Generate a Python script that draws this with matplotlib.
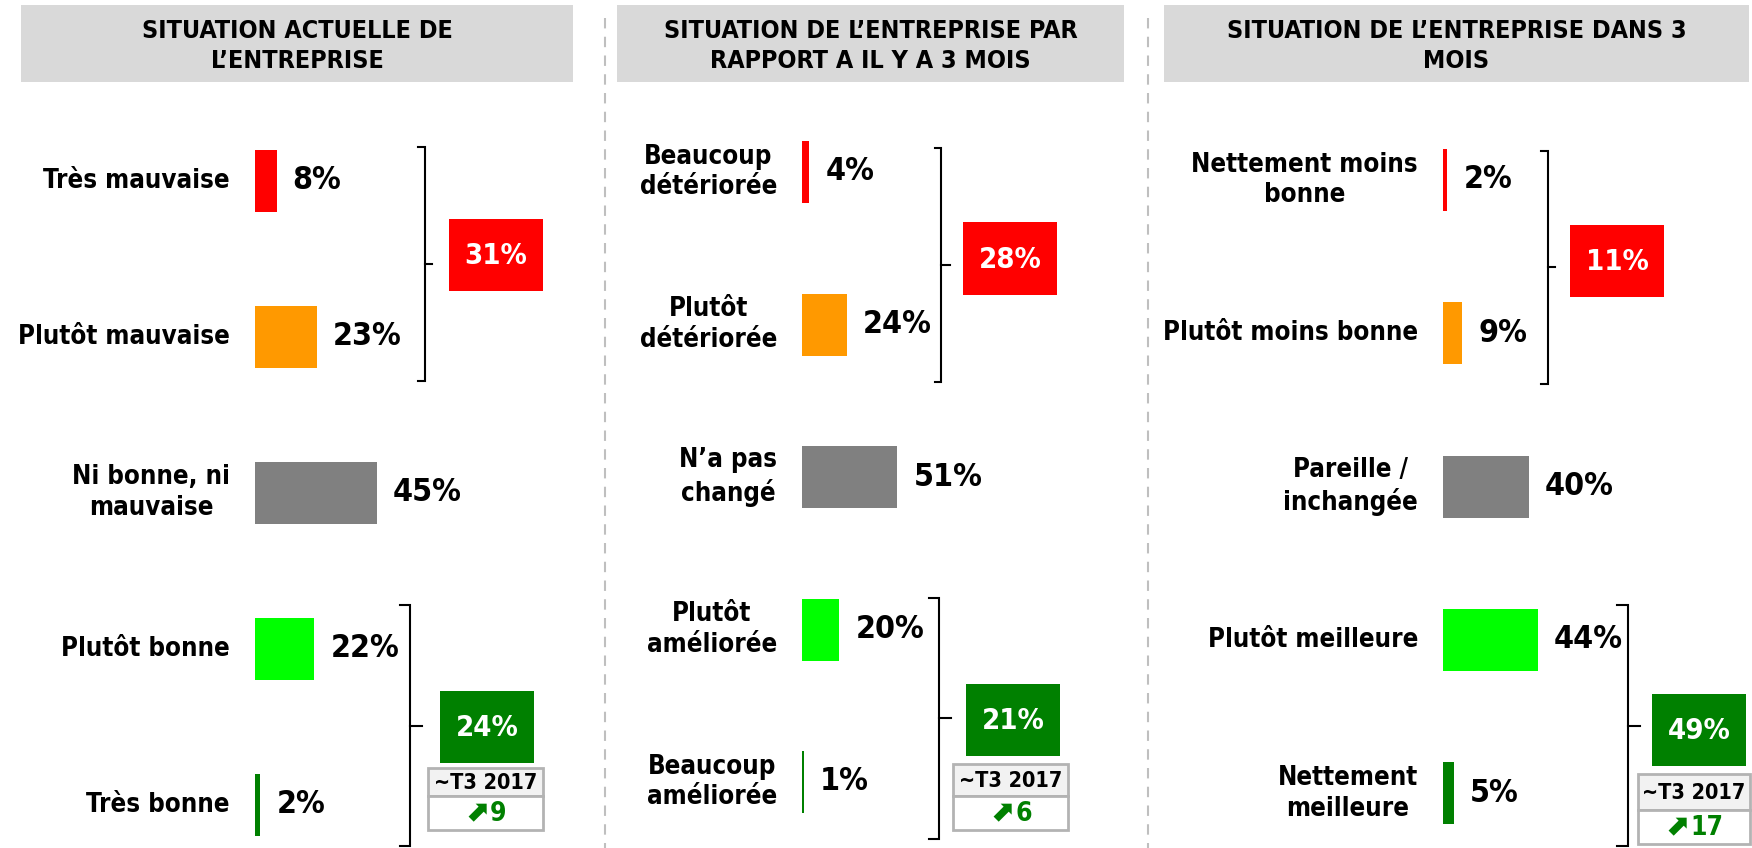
import matplotlib
matplotlib.use("Agg")
import matplotlib.pyplot as plt
from matplotlib.patches import Rectangle
from matplotlib.offsetbox import TextArea, HPacker, AnnotationBbox

W, H = 1752, 848

# data
titles = ["SITUATION ACTUELLE DE\nL\u2019ENTREPRISE",
          "SITUATION DE L\u2019ENTREPRISE PAR\nRAPPORT A IL Y A 3 MOIS",
          "SITUATION DE L\u2019ENTREPRISE DANS 3\nMOIS"]
labels1 = ["Très mauvaise", "Plutôt mauvaise", "Ni bonne, ni\nmauvaise", "Plutôt bonne", "Très bonne"]
values1 = [8, 23, 45, 22, 2]
labels2 = ["Beaucoup\ndétériorée", "Plutôt\ndétériorée", "N\u2019a pas\nchangé", "Plutôt\naméliorée", "Beaucoup\naméliorée"]
values2 = [4, 24, 51, 20, 1]
labels3 = ["Nettement moins\nbonne", "Plutôt moins bonne", "Pareille /\ninchangée", "Plutôt meilleure", "Nettement\nmeilleure"]
values3 = [2, 9, 40, 44, 5]
neg_totals = [31, 28, 11]
pos_totals = [24, 21, 49]
ref_label = "~T3 2017"
evolution = [9, 6, 17]

bar_colors = ["#FF0000", "#FF9900", "#808080", "#00FF00", "#008000"]
dark_green = "#008000"

# condensed bold is closest to the Tahoma look of the original
F = dict(family="DejaVu Sans", fontstretch="condensed", fontweight="bold")

# layout in pixels (one dict per panel)
panels = [
    dict(labels=labels1, values=values1, x0=255, ppp=2.70, row0=180.5, step=156,
         head=(21, 573), top_br=(425, 418, 432, 147, 381, 264),
         bot_br=(410, 400, 422, 605, 846, 726),
         red=(449, 219, 94, 72), green=(440, 691, 94, 72), table=(428, 768, 115, 28, 34)),
    dict(labels=labels2, values=values2, x0=802, ppp=1.87, row0=172, step=152.5,
         head=(617, 1124), top_br=(941, 935, 950, 148, 382, 265),
         bot_br=(939, 929, 951, 598, 839, 718),
         red=(963, 222, 94, 73), green=(966, 684, 94, 72), table=(953, 764, 115, 32, 34)),
    dict(labels=labels3, values=values3, x0=1443, ppp=2.15, row0=180, step=153.3,
         head=(1164, 1749), top_br=(1548, 1541, 1555, 151, 384, 267),
         bot_br=(1628, 1617, 1640, 605, 846, 726),
         red=(1570, 225, 94, 72), green=(1652, 694, 94, 72), table=(1638, 774, 112, 36, 34)),
]

fig = plt.figure(figsize=(W / 100, H / 100), dpi=100)
fig.patch.set_facecolor("white")

# overlay axes in pixel coordinates for decorations
bg = fig.add_axes([0, 0, 1, 1])
bg.set_xlim(0, W)
bg.set_ylim(H, 0)
bg.axis("off")

# dashed separators
for xs in [605, 1148]:
    bg.plot([xs, xs], [18, H], color="#BFBFBF", lw=1.5, ls=(0, (5, 4)))

for k, p in enumerate(panels):
    # header
    hx0, hx1 = p["head"]
    bg.add_patch(Rectangle((hx0, 5), hx1 - hx0, 77, facecolor="#D9D9D9", edgecolor="none"))
    bg.text((hx0 + hx1) / 2, 46, titles[k], ha="center", va="center", fontsize=18,
            linespacing=1.3, **F)

    # bar axes
    x0, ppp = p["x0"], p["ppp"]
    ax = fig.add_axes([x0 / W, 0, 100 * ppp / W, 1])
    ax.set_xlim(0, 100)
    ax.set_ylim((H - p["row0"]) / p["step"], -p["row0"] / p["step"])
    ax.axis("off")
    ypos = list(range(len(p["values"])))
    ax.barh(ypos, p["values"], height=62 / p["step"], color=bar_colors, left=0)
    for i, (lab, v) in enumerate(zip(p["labels"], p["values"])):
        ax.annotate(lab, (0, i), xytext=(-25, 0), textcoords="offset pixels",
                    ha="right", va="center", multialignment="center",
                    fontsize=18.5, linespacing=1.25, **F)
        ax.annotate(f"{v}%", (v, i), xytext=(16, 0), textcoords="offset pixels",
                    ha="left", va="center", fontsize=23, **F)

    # brackets
    for (bx, hx, tx, y0, y1, ym) in [p["top_br"], p["bot_br"]]:
        bg.plot([hx, bx, bx, hx], [y0, y0, y1, y1], color="black", lw=1.5,
                solid_joinstyle="miter")
        bg.plot([bx, tx], [ym, ym], color="black", lw=1.5)

    # total boxes
    rx, ry, rw, rh = p["red"]
    bg.add_patch(Rectangle((rx, ry), rw, rh, facecolor="#FF0000", edgecolor="none"))
    bg.text(rx + rw / 2, ry + rh / 2 + 1, f"{neg_totals[k]}%", ha="center", va="center",
            color="white", fontsize=21, **F)
    gx, gy, gw, gh = p["green"]
    bg.add_patch(Rectangle((gx, gy), gw, gh, facecolor=dark_green, edgecolor="none"))
    bg.text(gx + gw / 2, gy + gh / 2 + 1, f"{pos_totals[k]}%", ha="center", va="center",
            color="white", fontsize=21, **F)

    # comparison table
    tx0, ty0, tw, th1, th2 = p["table"]
    bg.add_patch(Rectangle((tx0, ty0), tw, th1, facecolor="#F2F2F2", edgecolor="#B3B3B3", lw=2))
    bg.add_patch(Rectangle((tx0, ty0 + th1), tw, th2, facecolor="white", edgecolor="#B3B3B3", lw=2))
    bg.text(tx0 + tw / 2, ty0 + th1 / 2 + 1, ref_label, ha="center", va="center",
            fontsize=15.5, **F)
    arrow = TextArea("\u2b08", textprops=dict(fontsize=21, fontweight="bold",
                                              family="DejaVu Sans", color=dark_green))
    num = TextArea(str(evolution[k]), textprops=dict(fontsize=19, color=dark_green, **F))
    pack = HPacker(children=[arrow, num], sep=1, align="baseline", pad=0)
    bg.add_artist(AnnotationBbox(pack, (tx0 + tw / 2, ty0 + th1 + th2 / 2),
                                 frameon=False, box_alignment=(0.5, 0.5), pad=0))

fig.savefig("out.png", dpi=100)
